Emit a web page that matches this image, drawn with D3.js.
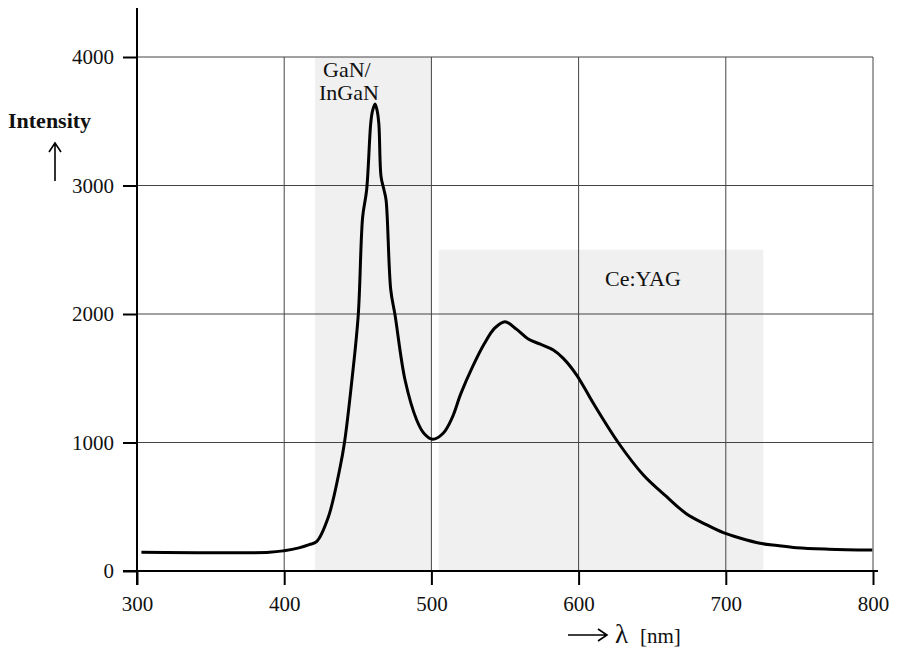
<!DOCTYPE html>
<html>
<head>
<meta charset="utf-8">
<script src="https://cdn.jsdelivr.net/npm/d3@7"></script>
<style>
  body { margin: 0; background: #fff; }
  text { font-family: "Liberation Serif", serif; fill: #111; }
</style>
</head>
<body>
<div class="container"></div>
<script>
// spectrum of a white LED
const wavelength = [303, 390, 400, 410, 417, 422, 430, 438, 441, 446, 450.3, 453.3, 456, 458.8, 460, 461.7, 463, 464.3,
  465.8, 467.8, 469.2, 472.4, 475.3, 482.1, 490, 495, 500.9, 508, 514, 520, 528, 536, 543, 550,
  558, 565.8, 574, 582.8, 589.6, 598.7, 610, 627, 644, 659.8, 673.4, 686, 698.3, 710, 723.2, 735, 748.1, 770, 799.5];
const intensity = [145, 146, 158, 180, 205, 228, 420, 809, 1004, 1486, 1992, 2755, 2965, 3486, 3580, 3634, 3590, 3480,
  3068, 2965, 2887, 2187, 1992, 1486, 1175, 1070, 1025, 1072, 1190, 1380, 1590, 1770, 1890, 1940,
  1880, 1805, 1765, 1720, 1655, 1525, 1305, 998, 747, 578, 444, 365, 298, 255, 216, 198, 181, 170, 163];

const xTicks = [300, 400, 500, 600, 700, 800];
const yTicks = [0, 1000, 2000, 3000, 4000];

// shaded emission bands
const bands = [
  { name: "GaN", from: 421, to: 500, top: 4000 },
  { name: "Ce:YAG", from: 505, to: 725.5, top: 2500 }
];

const width = 900;
const height = 649;

const svg = d3.select("div.container")
    .append("svg")
    .attr("width", width)
    .attr("height", height);

const x = d3.scaleLinear().domain([300, 800]).range([137, 873]);
const y = d3.scaleLinear().domain([0, 4000]).range([571, 57]);

// bands
svg.selectAll("rect.band")
    .data(bands)
    .enter()
    .append("rect")
    .attr("class", "band")
    .attr("x", d => x(d.from))
    .attr("y", d => y(d.top))
    .attr("width", d => x(d.to) - x(d.from))
    .attr("height", d => y(0) - y(d.top))
    .attr("fill", "#f0f0f0");

// grid
svg.selectAll("line.vgrid")
    .data(xTicks.slice(1))
    .enter()
    .append("line")
    .attr("x1", d => x(d)).attr("x2", d => x(d))
    .attr("y1", y(0)).attr("y2", y(4000))
    .attr("stroke", "#444").attr("stroke-width", 1);

svg.selectAll("line.hgrid")
    .data(yTicks.slice(1))
    .enter()
    .append("line")
    .attr("x1", x(300)).attr("x2", x(800))
    .attr("y1", d => y(d)).attr("y2", d => y(d))
    .attr("stroke", "#444").attr("stroke-width", 1);

// axes
const xAxis = d3.axisBottom(x).tickValues(xTicks).tickFormat(d3.format("d")).tickSize(14).tickPadding(11);
const gx = svg.append("g").attr("transform", `translate(0,${y(0)})`).call(xAxis);
gx.select(".domain").remove();
gx.append("line").attr("x1", 123).attr("x2", 878).attr("stroke", "#000").attr("stroke-width", 2);

const yAxis = d3.axisLeft(y).tickValues(yTicks).tickFormat(d3.format("d")).tickSize(14).tickPadding(9);
const gy = svg.append("g").attr("transform", `translate(${x(300)},0)`).call(yAxis);
gy.select(".domain").remove();
gy.append("line").attr("y1", 8).attr("y2", 585).attr("stroke", "#000").attr("stroke-width", 2);

svg.selectAll(".tick line").attr("stroke", "#000").attr("stroke-width", 2);
svg.selectAll(".tick text")
    .style("font-family", "Liberation Serif, serif")
    .style("font-size", "21px")
    .attr("fill", "#111");

// curve
const line = d3.line()
    .x((d, i) => x(wavelength[i]))
    .y(d => y(d))
    .curve(d3.curveCatmullRom.alpha(0.5));

svg.append("path")
    .datum(intensity)
    .attr("d", line)
    .attr("fill", "none")
    .attr("stroke", "#000")
    .attr("stroke-width", 3)
    .attr("stroke-linejoin", "round");

// labels
svg.append("text").attr("x", 323).attr("y", 77).attr("font-size", 22).text("GaN/");
svg.append("text").attr("x", 319).attr("y", 100).attr("font-size", 22).text("InGaN");
svg.append("text").attr("x", 605).attr("y", 286).attr("font-size", 22).text("Ce:YAG");

svg.append("text").attr("x", 8).attr("y", 128).attr("font-size", 22).attr("font-weight", "bold").text("Intensity");
svg.append("path").attr("d", "M55,181 L55,144 M49,152 L55,143 L61,152")
    .attr("fill", "none").attr("stroke", "#000").attr("stroke-width", 1.6);

svg.append("path").attr("d", "M568,635 L606,635 M598,629 L607,635 L598,641")
    .attr("fill", "none").attr("stroke", "#000").attr("stroke-width", 1.6);
svg.append("text").attr("x", 615).attr("y", 643).attr("font-size", 27).text("λ");
svg.append("text").attr("x", 640).attr("y", 643).attr("font-size", 21).text("[nm]");
</script>
</body>
</html>
